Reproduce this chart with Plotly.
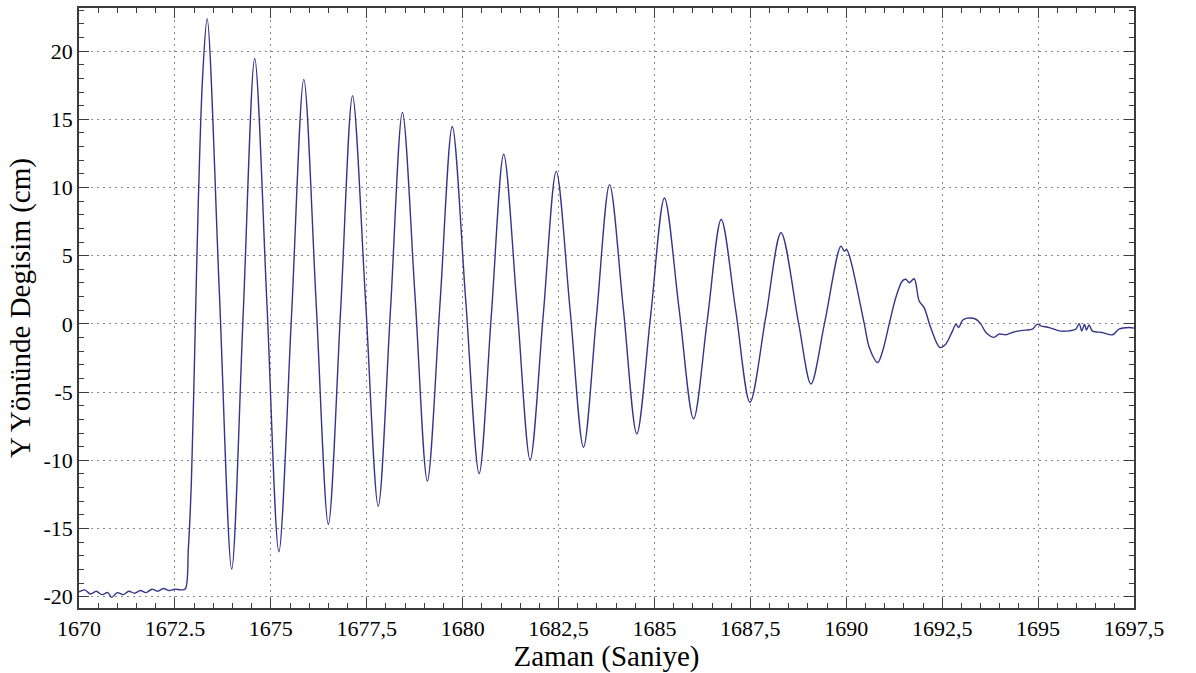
import plotly.graph_objects as go

# Time (s) and Y displacement (cm) of the measured free oscillation
time_s = [
    1670.00, 1670.15, 1670.30, 1670.45, 1670.60, 1670.75, 1670.85, 1671.00,
    1671.15, 1671.30, 1671.45, 1671.60, 1671.75, 1671.90, 1672.05, 1672.20,
    1672.35, 1672.50, 1672.65, 1672.77, 1672.85, 1672.93, 1673.02, 1673.11,
    1673.22, 1673.34, 1673.66, 1673.98, 1674.28, 1674.58, 1674.90, 1675.21,
    1675.54, 1675.86, 1676.18, 1676.50, 1676.82, 1677.13, 1677.47, 1677.80,
    1678.12, 1678.43, 1678.76, 1679.08, 1679.41, 1679.73, 1680.08, 1680.43,
    1680.75, 1681.07, 1681.42, 1681.76, 1682.10, 1682.44, 1682.80, 1683.15,
    1683.49, 1683.83, 1684.19, 1684.54, 1684.90, 1685.26, 1685.64, 1686.02,
    1686.38, 1686.74, 1687.12, 1687.49, 1687.90, 1688.30, 1688.76, 1689.08,
    1689.43, 1689.86, 1689.95, 1690.01, 1690.12, 1690.47, 1690.60, 1690.82,
    1690.95, 1691.12, 1691.29, 1691.46, 1691.55, 1691.64, 1691.77, 1691.90,
    1692.03, 1692.20, 1692.44, 1692.59, 1692.77, 1692.86, 1692.93, 1693.03,
    1693.16, 1693.38, 1693.51, 1693.64, 1693.85, 1693.98, 1694.16, 1694.33,
    1694.51, 1694.68, 1694.85, 1694.98, 1695.07, 1695.29, 1695.55, 1695.81,
    1695.98, 1696.07, 1696.14, 1696.21, 1696.26, 1696.33, 1696.41, 1696.67,
    1696.94, 1697.11, 1697.37, 1697.50,
]
disp_cm = [
    -19.65, -19.50, -19.80, -19.60, -19.85, -19.70, -20.05, -19.70,
    -19.85, -19.60, -19.75, -19.55, -19.70, -19.45, -19.60, -19.40,
    -19.55, -19.45, -19.50, -19.44, -16.50, -11.50, -1.50, 8.97,
    18.00, 22.38, 2.20, -17.98, 0.74, 19.46, 1.38, -16.71,
    0.61, 17.93, 1.62, -14.69, 1.02, 16.73, 1.68, -13.37,
    1.07, 15.51, 2.00, -11.52, 1.48, 14.47, 1.75, -10.98,
    0.73, 12.44, 1.24, -9.96, 0.61, 11.18, 1.07, -9.04,
    0.59, 10.21, 1.08, -8.06, 0.59, 9.23, 1.14, -6.96,
    0.35, 7.65, 0.95, -5.75, 0.47, 6.68, 0.00, -4.41,
    0.00, 5.70, 5.33, 5.45, 4.60, 0.00, -1.73, -2.83,
    -1.97, 0.00, 1.92, 3.14, 3.27, 3.02, 3.31, 1.68,
    1.19, -0.27, -1.73, -1.49, -0.51, -0.02, -0.27, 0.27,
    0.42, 0.34, -0.02, -0.63, -0.99, -0.75, -0.80, -0.63,
    -0.51, -0.46, -0.39, -0.02, -0.14, -0.27, -0.51, -0.51,
    -0.39, 0.02, -0.51, -0.02, -0.46, -0.07, -0.51, -0.63,
    -0.80, -0.39, -0.27, -0.31,
]

x_tick_vals = [1670, 1672.5, 1675, 1677.5, 1680, 1682.5, 1685, 1687.5,
               1690, 1692.5, 1695, 1697.5]
x_tick_text = ["1670", "1672.5", "1675", "1677,5", "1680", "1682,5", "1685",
               "1687,5", "1690", "1692,5", "1695", "1697,5"]
y_tick_vals = [-20, -15, -10, -5, 0, 5, 10, 15, 20]
y_tick_text = ["-20", "-15", "-10", "-5", "0", "5", "10", "15", "20"]

serif = "Liberation Serif, Times New Roman, serif"
frame = "#3c3c3c"
grid = dict(showgrid=True, gridcolor="#8c8c8c", gridwidth=1, griddash="1.5px,4.5px")
tick_font = dict(family=serif, size=22, color="black")
title_font = dict(family=serif, size=29, color="black")

fig = go.Figure()
fig.add_trace(go.Scatter(
    x=time_s, y=disp_cm, mode="lines",
    line=dict(color="#34348a", width=1.4, shape="spline", smoothing=0.9),
    showlegend=False,
))

fig.update_layout(
    width=1196, height=673,
    margin=dict(l=79, r=62, t=6, b=65),
    paper_bgcolor="white", plot_bgcolor="white",
    font=dict(family=serif, size=22, color="black"),
    xaxis=dict(
        range=[1670, 1697.5], tickvals=x_tick_vals, ticktext=x_tick_text,
        ticks="inside", ticklen=10, tickwidth=1.3, tickcolor=frame,
        showline=True, linecolor=frame, linewidth=1.6, mirror="ticks",
        zeroline=False,
        minor=dict(dtick=0.5, tick0=1670, ticks="inside", ticklen=5,
                   tickwidth=1.2, tickcolor=frame, showgrid=False),
        title=dict(text="Zaman (Saniye)", font=title_font, standoff=0),
        tickfont=tick_font,
        **grid,
    ),
    yaxis=dict(
        range=[-20.83, 23.16], tickvals=y_tick_vals, ticktext=y_tick_text,
        ticks="inside", ticklen=10, tickwidth=1.3, tickcolor=frame,
        showline=True, linecolor=frame, linewidth=1.6, mirror="ticks",
        zeroline=False,
        minor=dict(dtick=1, tick0=0, ticks="inside", ticklen=5,
                   tickwidth=1.2, tickcolor=frame, showgrid=False),
        title=dict(text="Y Yönünde Degisim (cm)", font=title_font, standoff=4),
        tickfont=tick_font,
        **grid,
    ),
)

fig.write_html("out.html")
